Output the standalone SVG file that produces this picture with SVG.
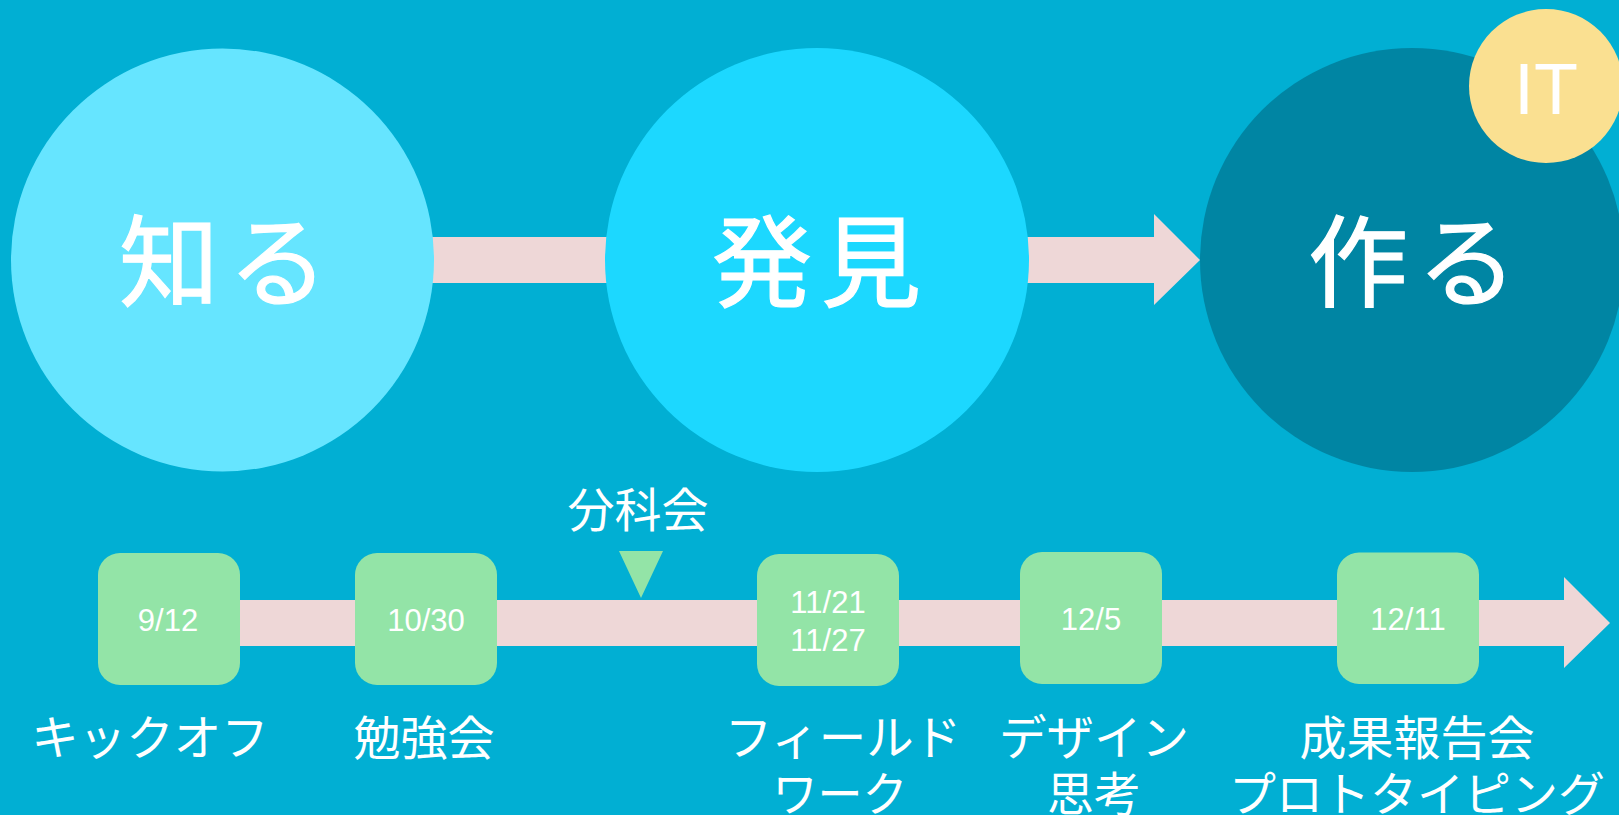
<svg xmlns="http://www.w3.org/2000/svg" width="1619" height="815" viewBox="0 0 1619 815">
<style>
text{fill:#fff;font-family:"Liberation Sans","Noto Sans CJK JP",sans-serif;text-anchor:middle}
.big{font-size:100px;letter-spacing:9px;stroke:#fff;stroke-width:1.200px}.lab{font-size:47px}.kana{font-size:47.500px}.date{font-size:31px}
.box{fill:#93e4a7}.arrow{fill:#eed7d7}
</style>
<rect width="1619" height="815" fill="#01afd3"/>
<g id="connectors">
<path class="arrow" d="M222 237H1154V214L1200 260L1154 305V283H222Z"/>
<path class="arrow" d="M170 600H1564V577L1610 623L1564 668V646H170Z"/>
</g>
<g id="node-shiru"><circle cx="222.500" cy="260" r="211.500" fill="#66e5ff"/><text class="big" x="228" y="299">知る</text></g>
<g id="node-hakken"><circle cx="817" cy="260" r="212" fill="#1cd8ff"/><text class="big" x="821" y="299">発見</text></g>
<g id="node-tsukuru"><circle cx="1412" cy="260" r="212" fill="#0085a3"/><text class="big" x="1417" y="299">作る</text></g>
<g id="node-it"><circle cx="1546" cy="86" r="77" fill="#fae091"/><text x="1546" y="114" font-size="72">IT</text></g>
<g id="node-bunkakai"><path class="box" d="M619 551H663L641 598Z"/><text class="lab" x="638" y="526.500">分科会</text></g>
<g id="node-kickoff"><rect class="box" x="98" y="553" width="142" height="132" rx="22"/><text class="date" x="168" y="631">9/12</text><text class="kana" x="150" y="755">キックオフ</text></g>
<g id="node-benkyo"><rect class="box" x="355" y="553" width="142" height="132" rx="22"/><text class="date" x="426" y="631">10/30</text><text class="lab" x="424" y="755">勉強会</text></g>
<g id="node-field"><rect class="box" x="757" y="554" width="142" height="132" rx="22"/><text class="date" x="828" y="613">11/21</text><text class="date" x="828" y="651">11/27</text><text class="kana" x="843" y="755">フィールド</text><text class="lab" x="840" y="811" textLength="135" lengthAdjust="spacingAndGlyphs">ワーク</text></g>
<g id="node-design"><rect class="box" x="1020" y="552" width="142" height="132" rx="22"/><text class="date" x="1091" y="630">12/5</text><text class="kana" x="1094" y="755">デザイン</text><text class="lab" x="1094" y="811">思考</text></g>
<g id="node-report"><rect class="box" x="1337" y="552.500" width="142" height="131.500" rx="22"/><text class="date" x="1408" y="630">12/11</text><text class="lab" x="1417" y="755">成果報告会</text><text class="lab" x="1417" y="811">プロトタイピング</text></g>
</svg>
